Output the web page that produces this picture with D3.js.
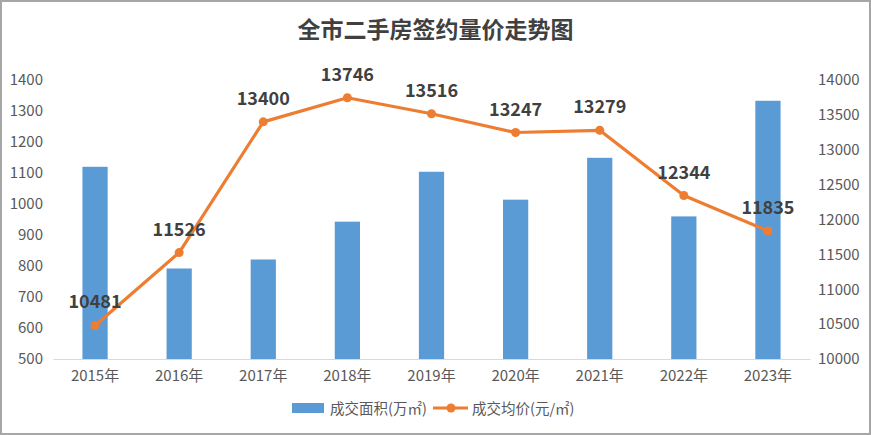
<!DOCTYPE html>
<html><head><meta charset="utf-8">
<script src="https://cdn.jsdelivr.net/npm/d3@7"></script>
<style>body{margin:0;background:#fff}svg{display:block}</style>
</head><body>
<svg id="c" width="871" height="435"></svg>
<script>
const years = ["2015年","2016年","2017年","2018年","2019年","2020年","2021年","2022年","2023年"];
const area = [1120, 792, 821, 943, 1104, 1014, 1149, 960, 1333];
const price = [10481, 11526, 13400, 13746, 13516, 13247, 13279, 12344, 11835];
const leftTicks = [500,600,700,800,900,1000,1100,1200,1300,1400];
const rightTicks = [10000,10500,11000,11500,12000,12500,13000,13500,14000];
const title = "全市二手房签约量价走势图";
const legendNames = ["成交面积(万㎡)","成交均价(元/㎡)"];

const W=871,H=435, L=53, R=810, T=80, B=359;
const font = "'Noto Sans CJK SC','Microsoft YaHei',sans-serif";
const svg = d3.select("#c");
svg.append("rect").attr("x",1).attr("y",1).attr("width",W-2).attr("height",H-2)
  .attr("fill","#fff").attr("stroke","#a6a6a6").attr("stroke-width",2);

const x = d3.scaleBand().domain(years).range([L,R]).paddingInner(0.7).paddingOuter(0.35);
const yL = d3.scaleLinear().domain([500,1400]).range([B,T]);
const yR = d3.scaleLinear().domain([10000,14000]).range([B,T]);

svg.append("text").attr("x",W/2).attr("y",38).attr("text-anchor","middle")
  .attr("font-family",font).attr("font-weight","bold").attr("font-size",23).attr("fill","#404040").text(title);

// bars
svg.selectAll(".bar").data(area).join("rect")
  .attr("x",(d,i)=>x(years[i])).attr("width",x.bandwidth())
  .attr("y",d=>yL(d)).attr("height",d=>B-yL(d)).attr("fill","#5b9bd5");

// x axis
const xa = svg.append("g").attr("transform",`translate(0,${B})`).call(d3.axisBottom(x).tickSize(0).tickPadding(11));
xa.select(".domain").attr("stroke","#d9d9d9").attr("stroke-width",1.2);
xa.selectAll("text").attr("font-family",font).attr("font-size",15).attr("fill","#595959");

// left axis
const ya = svg.append("g").attr("transform",`translate(${L},0)`).call(d3.axisLeft(yL).tickValues(leftTicks).tickFormat(d3.format("d")).tickSize(0).tickPadding(10));
ya.select(".domain").remove();
ya.selectAll("text").attr("font-family",font).attr("font-size",15).attr("fill","#595959");

// right axis
const yra = svg.append("g").attr("transform",`translate(${R},0)`).call(d3.axisRight(yR).tickValues(rightTicks).tickFormat(d3.format("d")).tickSize(0).tickPadding(8));
yra.select(".domain").remove();
yra.selectAll("text").attr("font-family",font).attr("font-size",15).attr("fill","#595959");

// line
const cx = i => x(years[i]) + x.bandwidth()/2;
const line = d3.line().x((d,i)=>cx(i)).y(d=>yR(d));
svg.append("path").datum(price).attr("d",line).attr("fill","none")
  .attr("stroke","#ed7d31").attr("stroke-width",3.2).attr("stroke-linejoin","round");
svg.selectAll(".pt").data(price).join("circle")
  .attr("cx",(d,i)=>cx(i)).attr("cy",d=>yR(d)).attr("r",4.5).attr("fill","#ed7d31");
svg.selectAll(".lbl").data(price).join("text")
  .attr("x",(d,i)=>cx(i)).attr("y",d=>yR(d)-17).attr("text-anchor","middle")
  .attr("font-family",font).attr("font-weight","bold").attr("font-size",18).attr("fill","#404040")
  .text(d=>d);

// legend
const lg = svg.append("g");
lg.append("rect").attr("x",292).attr("y",403).attr("width",32).attr("height",10).attr("fill","#5b9bd5");
lg.append("text").attr("x",330).attr("y",414).attr("font-family",font).attr("font-size",14.5).attr("fill","#595959").text(legendNames[0]);
lg.append("line").attr("x1",433).attr("x2",468).attr("y1",408).attr("y2",408).attr("stroke","#ed7d31").attr("stroke-width",3);
lg.append("circle").attr("cx",451).attr("cy",408).attr("r",4.5).attr("fill","#ed7d31");
lg.append("text").attr("x",472).attr("y",414).attr("font-family",font).attr("font-size",14.5).attr("fill","#595959").text(legendNames[1]);
</script>
</body></html>
